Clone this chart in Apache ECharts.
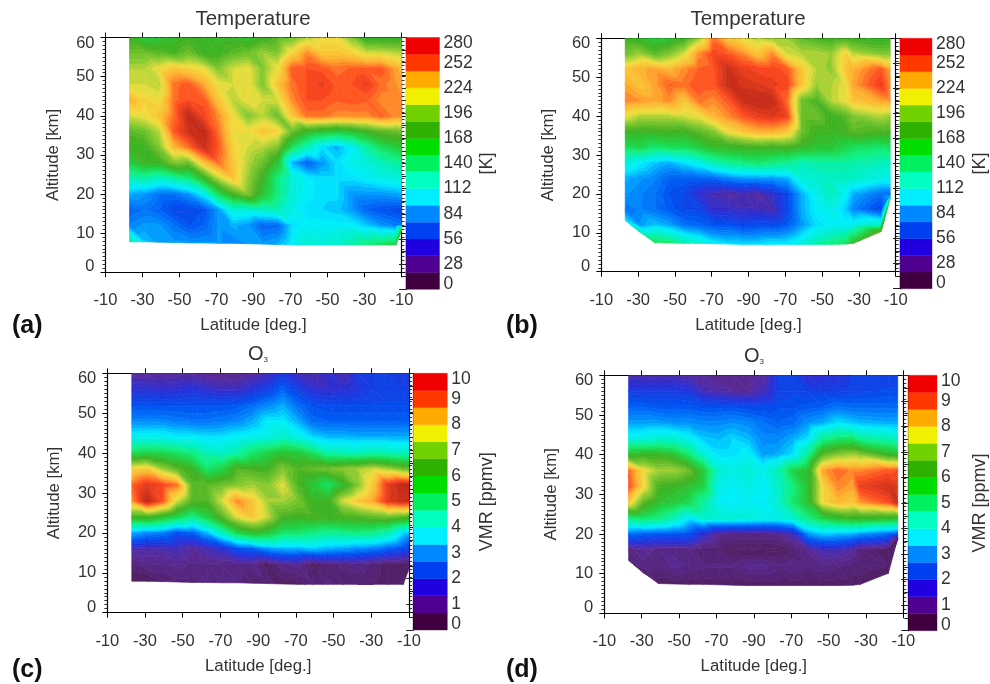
<!DOCTYPE html>
<html><head><meta charset="utf-8">
<script src="https://cdn.jsdelivr.net/npm/echarts@6/dist/echarts.min.js"></script>
<style>html,body{margin:0;padding:0;background:#fff}#c{width:990px;height:684px}</style>
</head><body><div id="c"></div>
<script>
// ---- Tick labels and scales ----
const latTickLabels = ['-10','-30','-50','-70','-90','-70','-50','-30','-10'];
const altRows = [60,56,52,48,44,40,36,32,28,24,20,16,12]; // last row of each field is the floor row
const tempLabelStep = 28, tempMax = 280;
const o3LabelStep = 1, o3Max = 10;
const barColors = ['#400040','#500090','#2000e0','#0040f0','#0088ff','#00eeff','#00ffc0','#00f060','#00dd00','#30b000','#70d000','#f0f000','#ffaa00','#ff3800','#f00000'];
const fieldColors = ['#501f60','#5a2a98','#2830d8','#0050f0','#0090ff','#00eeff','#00f0c8','#10f080','#20d040','#40b020','#80c830','#f0e040','#ffb030','#ff4a20','#c02a18'];

// ---- Orbit-position columns (axis position) ----
const colsAC = [13,21,29,37,45,53,61,69,77,85,93,101,109,117,125,133,141,149,157,160];
const colsBD = [13,21,29,37,45,53,61,69,77,85,93,101,109,117,125,133,137,152,157];

// ---- Floor altitudes [km] ----
const floorA = [7.8,7.8,7.7,7.6,7.5,7.5,7.4,7.4,7.3,7.2,7.1,7,7,7,7,7,7,7,7,10.8];
const floorB = [13.3,10.2,7.5,7.4,7.3,7.3,7.2,7.1,7,7,7,7,7,7,7,7.1,7.3,10.3,19];
const floorC = [7.9,7.9,7.8,7.7,7.6,7.6,7.5,7.5,7.4,7.3,7.2,7.1,7.1,7.1,7.1,7.1,7.1,7.1,7.1,11];
const floorD = [13.4,10.2,7.5,7.4,7.3,7.3,7.2,7.1,7,7,7,7,7,7,7,7.1,7.3,10.1,18.9];

// ---- Panel (a) temperature [K], rows top to bottom ----
const tempA = [
[175,160,165,170,175,175,170,170,165,175,185,190,205,215,215,195,170,170,170,170],
[190,190,185,180,190,175,175,185,190,200,195,220,240,225,225,220,210,210,206,205],
[205,205,215,225,220,215,195,210,215,195,215,250,252,250,245,248,248,250,235,230],
[210,210,205,245,250,235,215,210,215,195,225,245,252,258,250,252,258,245,238,235],
[230,220,215,245,252,250,225,205,215,210,210,240,252,252,248,250,248,240,240,240],
[210,215,225,245,272,255,240,215,195,205,190,225,245,245,240,240,240,248,240,238],
[185,190,205,250,268,272,245,215,215,225,220,190,172,165,160,165,175,185,188,190],
[175,175,195,230,245,268,250,220,210,205,195,150,125,100,90,105,130,150,160,165],
[160,175,175,195,190,225,245,225,205,190,165,90,70,85,100,110,115,125,132,135],
[125,130,120,130,140,170,205,225,200,175,140,115,105,100,100,100,105,110,113,115],
[90,85,75,75,85,105,150,180,195,165,140,115,105,100,100,85,85,85,88,90],
[70,75,70,60,60,65,85,115,115,120,125,110,100,98,95,85,70,65,62,60],
[80,85,85,75,65,70,85,90,85,70,72,100,105,105,105,105,95,85,78,75],
[135,95,85,85,85,85,85,80,85,85,90,105,120,115,120,130,140,150,158,160]];

// ---- Panel (b) temperature [K] ----
const tempB = [
[175,170,160,165,175,200,245,225,215,205,200,200,185,180,175,180,175,170,175],
[190,200,185,195,210,240,255,250,240,225,240,210,205,205,200,220,205,195,195],
[225,232,235,230,240,248,250,268,258,255,255,250,225,205,198,225,232,250,235],
[235,225,235,248,245,252,250,268,265,262,258,255,225,200,205,215,235,258,240],
[242,238,235,240,225,245,240,250,268,272,270,245,190,180,205,215,225,235,238],
[215,205,205,205,210,215,230,240,250,258,262,255,190,190,175,185,195,205,200],
[175,175,175,178,175,185,195,215,225,232,232,225,190,175,175,178,185,180,178],
[150,155,145,150,150,160,170,172,175,178,175,178,170,165,165,155,150,145,150],
[115,105,95,90,100,110,125,135,140,145,140,135,125,130,130,130,130,125,125],
[90,85,80,70,70,70,72,80,85,85,85,90,115,118,122,122,122,110,110],
[85,80,75,65,60,45,35,30,33,30,42,60,90,110,125,105,90,75,75],
[75,80,75,68,60,60,42,42,38,38,35,60,90,105,110,95,80,60,90],
[100,85,95,88,75,72,65,65,60,62,62,68,85,100,105,105,110,120,120],
[105,125,150,145,130,120,105,100,100,100,105,105,115,130,140,150,170,185,140]];

// ---- Panel (c) O3 VMR [ppmv] ----
const o3C = [
[1,1,1,1,1,.9,.8,.8,1,1.3,1.8,1.3,1.2,1.5,1.2,1.9,2,2,1.8,1.9],
[1.6,1.6,1.5,1.6,1.7,1.5,1.4,1.4,1.7,2,2.5,2,1.6,1.5,1.6,1.8,2,2,2,2],
[2.3,2.3,2.3,2.3,2.3,2.3,2.3,2.4,2.6,2.9,3.2,2.6,2.3,2.2,2.2,2.2,2.2,2.2,2.2,2.2],
[2.9,2.9,2.9,2.8,2.7,2.7,2.8,2.9,3.2,3.7,3.7,3.2,2.6,2.5,2.5,2.5,2.5,2.5,2.5,2.5],
[3.8,3.9,3.9,3.7,3.7,3.6,3.6,3.8,3.9,4,4.3,4,3.5,3.3,3.3,3.2,3.2,3.2,3.2,3.2],
[5.4,5.6,5.5,5.3,5,4.5,4.3,4.6,5.2,5.6,5.9,5.8,5.3,4.6,4.5,4.4,4.6,4.5,4.4,4.4],
[7.8,8,7.2,6.6,6.2,5.2,5.6,6.5,6.4,6.3,7,6.5,6.7,6.8,7,7.2,7.5,7.2,6.8,6.7],
[8.8,9.3,9.1,8.7,6.6,6.6,6.8,7,7.2,7,7.6,6.5,5.8,5.2,6,7,8,9.3,9.7,9.7],
[8.5,9.7,9,7.5,6.5,6.5,7.5,8.6,8,7.2,7.2,6.9,6.2,6.2,7.5,8,8.4,9.3,9.6,9.5],
[6.3,6.4,6,5.5,4.9,5.6,6.6,7.6,8,7.4,6.4,6.3,6.4,6.3,6.4,6.5,6.7,6.8,6.6,6.4],
[3.2,2.9,2.8,2.3,2.5,3.3,4.4,5.5,6,5.8,5.2,5.2,5,4.8,4.9,5,4.9,4.5,3.5,3.3],
[1.2,1.2,1.2,1.3,1,1.3,1.6,2.3,2.5,3,3.2,3.2,3.4,3.2,3.1,2.9,2.8,2.5,2.2,1.9],
[.6,.8,.8,.9,.8,.8,.8,.8,.8,.4,.8,.9,.4,.6,.7,.8,.6,.4,.4,.4],
[.3,.3,.5,.6,.6,.7,.7,.7,.5,.6,.4,.4,.6,.7,.6,.5,.5,.4,.4,.5]];

// ---- Panel (d) O3 VMR [ppmv] ----
const o3D = [
[1.2,1.2,1.2,1.2,1.1,1,.9,.9,.9,1,2,2,1.5,1.6,1.7,2,2,2,2],
[1.9,1.9,1.9,1.9,1.8,1.3,1.1,1,1,1.3,2,2.1,2,2,2,2.1,2.1,2.2,2.2],
[2.5,2.5,2.4,2.4,2.4,2.3,2.3,2.3,2.2,2.2,2.3,2.3,2.4,2.5,2.7,2.6,2.6,2.6,2.6],
[3.1,3.1,3.1,3,3,2.9,2.9,3,2.9,2.7,2.5,2.6,3,3.2,3.6,3.4,3.3,3.2,3.2],
[4,4,4.2,4.2,3.9,3.4,3.3,3.5,3.3,2.9,2.9,3.2,3.6,4.8,5.2,5.2,4.8,4.5,4.3],
[6,6.2,6.2,5.9,5.2,4.2,3.6,3.6,3.8,3.1,3.2,3.6,4.8,6.6,7,7.2,7,6.2,6],
[8.8,7.7,7.2,7.2,6.8,5.8,4.2,4,4.2,3.9,4.5,5.6,6,8.4,8.8,8.6,8.6,8.9,9],
[9,7.8,6.4,6.2,6,5.6,3.9,3.8,4,3.7,4.3,5,6,7.8,8.6,8.4,9.2,9.5,9.3],
[8,6.6,6,5.8,5.5,4.7,3.8,3.7,3.8,3.7,4.2,5.2,5.9,7.8,8.2,8,8.5,9,9.6],
[5,5.2,5,4.5,3.7,4.2,4.2,4.2,4.1,4,4,4.3,5,5.6,6,6.2,6.2,6.1,6],
[2.6,2.5,2.4,2.4,2.3,1.6,.9,.8,.8,.8,.9,1.3,3,3.4,3.3,3.2,3,2.6,2.4],
[.8,.9,.8,.8,.8,.5,.5,.3,.3,.3,.3,.5,.9,1.3,1.3,1,.6,.4,.5],
[.8,.8,.7,.9,.8,.7,.7,.7,.9,.9,.7,.8,.7,.8,.7,.6,.6,.5,.5],
[.7,.5,.4,.4,.4,.4,.4,.4,.4,.4,.4,.4,.4,.4,.4,.4,.4,.4,.5]];

// ---- Panels ----
const W = 990, H = 684;
const panels = [
 {tag:'(a)',tagX:12,tagY:314,field:tempA,cols:colsAC,floor:floorA,max:tempMax,step:tempLabelStep,title:'Temperature',tx:253,ty:9,barName:'[K]',barGap:39,
  p:[105.5,37.5,401.5,272.3],b:[406,37.5,439.5,289.3]},
 {tag:'(b)',tagX:506,tagY:314,field:tempB,cols:colsBD,floor:floorB,max:tempMax,step:tempLabelStep,title:'Temperature',tx:748,ty:9,barName:'[K]',barGap:39,
  p:[601.3,38.3,895.7,271.7],b:[900,38.3,932.7,288.7]},
 {tag:'(c)',tagX:12,tagY:658,field:o3C,cols:colsAC,floor:floorC,max:o3Max,step:o3LabelStep,title:'O',tx:258,ty:344,barName:'VMR [ppmv]',barGap:31,
  p:[107.3,373.3,409,612.7],b:[413.3,373.3,447.3,630]},
 {tag:'(d)',tagX:506,tagY:658,field:o3D,cols:colsBD,floor:floorD,max:o3Max,step:o3LabelStep,title:'O',tx:754,ty:346,barName:'VMR [ppmv]',barGap:34,
  p:[604.3,375.3,903.3,613.3],b:[908.3,375.3,941.7,630.7]}
];

function rampColor(t){ // t in 0..1 across the scale
  const s = Math.max(0,Math.min(fieldColors.length-1, t*15-0.5));
  const i = Math.min(fieldColors.length-2,Math.floor(s)), f = s-i;
  const a = fieldColors[i], b = fieldColors[i+1];
  const ch = k => Math.round(parseInt(a.substr(k,2),16)*(1-f)+parseInt(b.substr(k,2),16)*f);
  return 'rgb('+ch(1)+','+ch(3)+','+ch(5)+')';
}
// clip a polygon (points with value) against one contour level
function clip(poly,lim,keepAbove){
  const out=[];
  for(let i=0;i<poly.length;i++){
    const A=poly[i],B=poly[(i+1)%poly.length];
    const ia=keepAbove?A[2]>=lim:A[2]<=lim, ib=keepAbove?B[2]>=lim:B[2]<=lim;
    if(ia) out.push(A);
    if(ia!==ib){const f=(lim-A[2])/(B[2]-A[2]);out.push([A[0]+f*(B[0]-A[0]),A[1]+f*(B[1]-A[1]),lim]);}
  }
  return out;
}
const LEVELS = 60, EPS = 1e-7;
function cellRender(panel){
  return function(params,api){
    const i=api.value(0), j=api.value(1); // j indexes rows top-down
    const rows=panel.field, n=rows.length;
    const altAt=(c,r)=> r===n-1 ? panel.floor[c] : Math.max(altRows[r],panel.floor[c]);
    const node=(c,r)=>{const pt=api.coord([panel.cols[c],altAt(c,r)]);return [pt[0],pt[1],rows[r][c]];};
    const a=node(i,j),b=node(i+1,j),c=node(i+1,j+1),d=node(i,j+1);
    const children=[];
    [[a,b,c],[a,c,d]].forEach(tri=>{
      const vs=tri.map(t=>t[2]), lo=Math.min(...vs), hi=Math.max(...vs);
      const step=panel.max/LEVELS;
      for(let k=Math.floor(lo/step-EPS);k<=Math.floor(hi/step+EPS)&&k<LEVELS;k++){
        let poly=clip(tri,k*step-EPS,true); if(poly.length<3) continue;
        poly=clip(poly,(k+1)*step+EPS,false); if(poly.length<3) continue;
        const col=rampColor((k+.5)/LEVELS);
        children.push({type:'polygon',shape:{points:poly.map(p=>[p[0],p[1]])},style:{fill:col,stroke:col,lineWidth:.7}});
      }
    });
    return {type:'group',children};
  };
}
const base={fontFamily:'Liberation Sans, Arial, sans-serif',color:'#333'};
const grid=[],xAxis=[],yAxis=[],series=[],title=[];
panels.forEach(P=>{
  const [x0,y0,x1,y1]=P.p,[bx0,by0,bx1,by1]=P.b;
  const gi=grid.length;
  grid.push({left:x0,top:y0,width:x1-x0,height:y1-y0,containLabel:false});
  grid.push({left:bx0,top:by0,width:bx1-bx0,height:by1-by0,containLabel:false});
  const line={show:true,onZero:false,lineStyle:{color:'#000',width:1.2}};
  const tick={show:true,length:5,lineStyle:{color:'#000',width:1}};
  const xi=xAxis.length, yi=yAxis.length;
  // bottom and top latitude axes
  xAxis.push({gridIndex:gi,type:'value',min:0,max:160,interval:20,position:'bottom',axisLine:line,axisTick:tick,splitLine:{show:false},
    name:'Latitude [deg.]',nameLocation:'middle',nameGap:45,nameMoveOverlap:false,nameTextStyle:{...base,fontSize:16.8},
    axisLabel:{...base,fontSize:16.5,margin:20,showMinLabel:true,showMaxLabel:true,formatter:v=>latTickLabels[v/20]}});
  xAxis.push({gridIndex:gi,type:'value',min:0,max:160,interval:20,position:'top',axisLine:line,axisTick:tick,splitLine:{show:false},axisLabel:{show:false}});
  // left and right altitude axes
  const minor={show:true,splitNumber:10,length:3,lineStyle:{color:'#000',width:.8}};
  yAxis.push({gridIndex:gi,type:'value',min:0,max:60,interval:10,position:'left',axisLine:line,axisTick:tick,minorTick:minor,splitLine:{show:false},minorSplitLine:{show:false},
    name:'Altitude [km]',nameLocation:'middle',nameGap:44,nameRotate:90,nameMoveOverlap:false,nameTextStyle:{...base,fontSize:16.8},
    axisLabel:{...base,fontSize:16.5,margin:11,lineHeight:11,showMinLabel:true,showMaxLabel:true,verticalAlignMinLabel:'bottom',verticalAlignMaxLabel:'top'}});
  yAxis.push({gridIndex:gi,type:'value',min:0,max:60,interval:10,position:'right',axisLine:line,axisTick:{...tick,length:4},minorTick:minor,splitLine:{show:false},axisLabel:{show:false}});
  // colour bar axes: inner tick labels on one axis, the two end labels on a companion axis
  xAxis.push({gridIndex:gi+1,type:'value',min:0,max:1,show:false,splitLine:{show:false}});
  const barLabel={...base,fontSize:17.5,margin:4};
  yAxis.push({gridIndex:gi+1,type:'value',min:0,max:P.max,interval:P.step,position:'right',
    axisLine:{show:true,lineStyle:{color:'#000',width:1.2}},
    axisTick:{show:true,inside:true,length:7,lineStyle:{color:'#222',width:1}},
    minorTick:{show:true,splitNumber:2,length:4,lineStyle:{color:'#222',width:1}},splitLine:{show:false},
    name:P.barName,nameLocation:'middle',nameGap:P.barGap,nameRotate:90,nameMoveOverlap:false,nameTextStyle:{...base,fontSize:18},
    axisLabel:{...barLabel,showMinLabel:false,showMaxLabel:false}});
  yAxis.push({gridIndex:gi+1,type:'value',min:0,max:P.max,interval:P.max,position:'right',
    axisLine:{show:false},axisTick:{show:false},splitLine:{show:false},
    axisLabel:{...barLabel,lineHeight:11,showMinLabel:true,showMaxLabel:true,verticalAlignMinLabel:'bottom',verticalAlignMaxLabel:'top'}});
  // the field: one data item for each grid cell
  const cells=[];
  for(let i=0;i<P.cols.length-1;i++)for(let j=0;j<P.field.length-1;j++)cells.push([i,j]);
  series.push({type:'custom',xAxisIndex:xi,yAxisIndex:yi,coordinateSystem:'cartesian2d',silent:true,animation:false,clip:true,
    renderItem:cellRender(P),data:cells,progressive:0,z:1});
  // colour bar bands
  const bands=barColors.map((c,k)=>[k,k+1]);
  series.push({type:'custom',xAxisIndex:xi+2,yAxisIndex:yi+2,silent:true,animation:false,data:bands,
    renderItem:(prm,api)=>{
      const k=api.value(0),h=P.max/barColors.length;
      const p0=api.coord([0,k*h]),p1=api.coord([1,(k+1)*h]);
      return {type:'rect',shape:{x:p0[0],y:p1[1],width:p1[0]-p0[0],height:p0[1]-p1[1]},style:{fill:barColors[k],stroke:barColors[k],lineWidth:.4}};
    },z:1});
  // titles and panel tags
  title.push({text:P.tag,left:P.tagX,top:P.tagY,padding:0,textStyle:{fontFamily:base.fontFamily,fontSize:25,fontWeight:'bold',color:'#111'}});
  if(P.title==='O'){
    title.push({text:'{a|O}{s|3}',left:P.tx,top:P.ty,textAlign:'center',padding:0,textStyle:{fontWeight:'normal',rich:{a:{fontFamily:base.fontFamily,fontSize:20,fontWeight:'normal',color:'#333'},s:{fontFamily:base.fontFamily,fontSize:8,fontWeight:'normal',color:'#333',verticalAlign:'bottom',padding:[8,0,0,0]}}}});
  } else {
    title.push({text:P.title,left:P.tx,top:P.ty,textAlign:'center',padding:0,textStyle:{fontFamily:base.fontFamily,fontSize:20.5,fontWeight:'normal',color:'#333'}});
  }
});
const chart=echarts.init(document.getElementById('c'),null,{renderer:'canvas',width:W,height:H});
chart.setOption({backgroundColor:'#fff',animation:false,title,grid,xAxis,yAxis,series});
</script>
</body></html>
